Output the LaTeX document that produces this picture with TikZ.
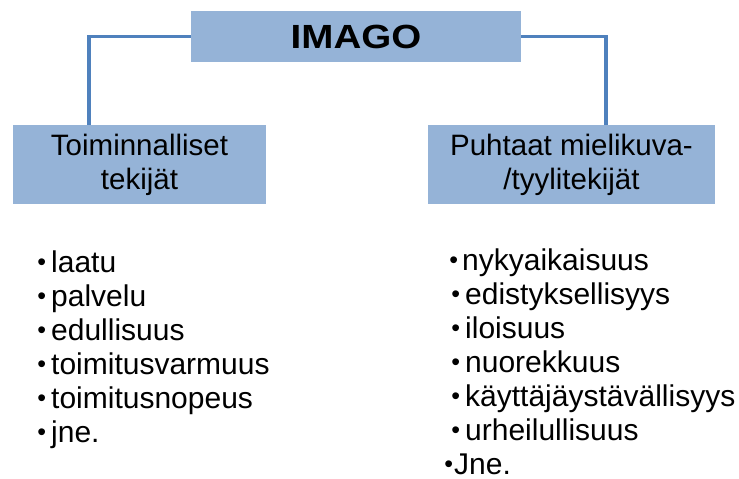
\documentclass[tikz,border=0pt]{standalone}
\usepackage{fontspec}
\setmainfont{Liberation Sans}
\definecolor{boxfill}{HTML}{95B3D7}
\definecolor{linecol}{HTML}{4F81BD}
\newcommand{\smbul}{\raisebox{1.8pt}{\fontsize{25}{25}\selectfont\textbullet}}
\begin{document}
\begin{tikzpicture}[x=1pt,y=-1pt,
  box/.style={fill=boxfill, draw=none, inner sep=0pt, align=center},
  conn/.style={draw=linecol, line width=3.5pt},
  item/.style={anchor=base west, inner sep=0pt, font=\fontsize{30}{34}\selectfont},
  boxtext/.style={font=\fontsize{29.5}{34}\selectfont}]
\useasboundingbox (0,0) rectangle (739,479);
\node[box, minimum width=330pt, minimum height=51pt] (imago) at (356,36.5)
  {\fontsize{33.5}{36}\selectfont\bfseries\scalebox{1.15}[1]{IMAGO}};
\node[box, boxtext, minimum width=253pt, minimum height=79pt] (left) at (139.5,164.5)
  {Toiminnalliset\\tekijät};
\node[box, boxtext, minimum width=287pt, minimum height=79pt] (right) at (571.5,164.5)
  {Puhtaat mielikuva-\\/tyylitekijät};
\draw[conn] (imago.west) -| ([xshift=76pt]left.north west);
\draw[conn] (imago.east) -| ([xshift=-109pt]right.north east);
% left list
\node[item] (l1) at (51,272) {\llap{\smbul\hspace{5pt}}laatu};
\node[item] (l2) at (51,306) {\llap{\smbul\hspace{5pt}}palvelu};
\node[item] (l3) at (51,340) {\llap{\smbul\hspace{5pt}}edullisuus};
\node[item] (l4) at (51,374) {\llap{\smbul\hspace{5pt}}toimitusvarmuus};
\node[item] (l5) at (51,408) {\llap{\smbul\hspace{5pt}}toimitusnopeus};
\node[item] (l6) at (51,442) {\llap{\smbul\hspace{5pt}}jne.};
% right list
\node[item] (r1) at (462,270) {\llap{\smbul\hspace{4pt}}nykyaikaisuus};
\node[item] (r2) at (465,304) {\llap{\smbul\hspace{5pt}}edistyksellisyys};
\node[item] (r3) at (465,338) {\llap{\smbul\hspace{5pt}}iloisuus};
\node[item] (r4) at (465,372) {\llap{\smbul\hspace{5pt}}nuorekkuus};
\node[item] (r5) at (465,406) {\llap{\smbul\hspace{5pt}}käyttäjäystävällisyys};
\node[item] (r6) at (465,440) {\llap{\smbul\hspace{5pt}}urheilullisuus};
\node[item] (r7) at (454,474) {\llap{\smbul\hspace{1pt}}Jne.};
\end{tikzpicture}
\end{document}
